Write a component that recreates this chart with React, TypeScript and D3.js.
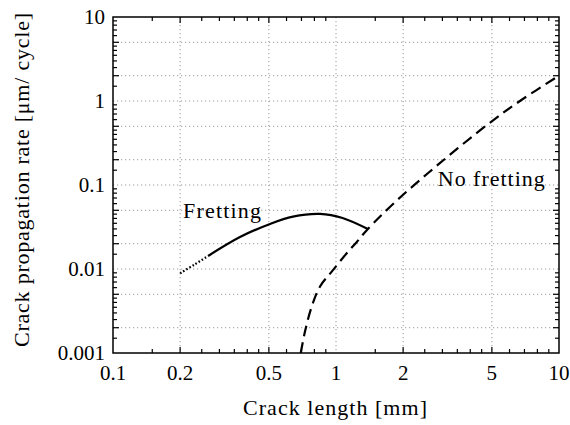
import React from "react";
import * as d3 from "d3";

const xTickLabels = [0.1, 0.2, 0.5, 1, 2, 5, 10];
const yTickLabels = [0.001, 0.01, 0.1, 1, 10];
const gridX = [0.2, 0.5, 1, 2, 5];
const gridY = [0.002, 0.005, 0.01, 0.02, 0.05, 0.1, 0.2, 0.5, 1, 2, 5];
const minorMantissas = [1.5, 2, 2.5, 3, 3.5, 4, 4.5, 5, 6, 7, 8, 9];

const frettingDottedX = [0.2, 0.232, 0.267];
const frettingDottedY = [0.0089, 0.0113, 0.0143];
const frettingX = [0.267, 0.371, 0.506, 0.641, 0.848, 1.07, 1.39];
const frettingY = [0.0143, 0.024, 0.0344, 0.042, 0.0452, 0.0405, 0.0299];
const noFrettingX = [0.695, 0.726, 0.778, 0.848, 0.957, 1.117, 1.24, 1.39, 1.88, 2.93, 4.75, 6.68, 10];
const noFrettingY = [0.001, 0.0018, 0.00356, 0.0062, 0.0093, 0.0154, 0.021, 0.03, 0.066, 0.183, 0.518, 1.0, 2.0];

const labelFretting = { text: "Fretting", x: 0.206, y: 0.0405 };
const labelNoFretting = { text: "No fretting", x: 2.86, y: 0.097 };

const W = 570, H = 425;
const L = 113, R = 559, T = 17, B = 353;
const FONT = "Liberation Serif, DejaVu Serif, serif";

export default function App() {
  const x = d3.scaleLog().domain([0.1, 10]).range([L, R]);
  const y = d3.scaleLog().domain([0.001, 10]).range([B, T]);

  const minorX: number[] = [];
  [0.1, 1].forEach((d) => minorMantissas.forEach((m) => minorX.push(d * m)));
  const minorY: number[] = [];
  [0.001, 0.01, 0.1, 1].forEach((d) => minorMantissas.forEach((m) => minorY.push(d * m)));
  const majorSet = (v: number) => [1, 2, 5].some((m) => Math.abs(v / Math.pow(10, Math.floor(Math.log10(v) + 1e-9)) - m) < 1e-6);

  const line = d3
    .line<[number, number]>()
    .x((d) => x(d[0]))
    .y((d) => y(d[1]))
    .curve(d3.curveCatmullRom.alpha(0.5));

  const zip = (a: number[], b: number[]) => a.map((v, i) => [v, b[i]] as [number, number]);

  const gridStyle = { stroke: "#9a9a9a", strokeWidth: 1, strokeDasharray: "1.2,2.8" };
  const ts = { fontFamily: FONT, fontSize: "21px" } as React.CSSProperties;
  const tl = { fontFamily: FONT, fontSize: "22px" } as React.CSSProperties;

  return (
    <svg width={W} height={H} style={{ position: "absolute", left: 0, top: 0, background: "#fff" }}>
      <defs>
        <clipPath id="plot">
          <rect x={L} y={T} width={R - L} height={B - T} />
        </clipPath>
      </defs>
      {gridX.map((v) => (
        <line key={"gx" + v} x1={x(v)} x2={x(v)} y1={T} y2={B} {...gridStyle} />
      ))}
      {gridY.map((v) => (
        <line key={"gy" + v} x1={L} x2={R} y1={y(v)} y2={y(v)} {...gridStyle} />
      ))}
      {minorX.map((v) => {
        const len = majorSet(v) ? 6 : 4;
        return (
          <g key={"tx" + v}>
            <line x1={x(v)} x2={x(v)} y1={B} y2={B - len} stroke="#000" strokeWidth={1.2} />
            <line x1={x(v)} x2={x(v)} y1={T} y2={T + len} stroke="#000" strokeWidth={1.2} />
          </g>
        );
      })}
      {minorY.map((v) => {
        const len = majorSet(v) ? 6 : 4;
        return (
          <g key={"ty" + v}>
            <line x1={L} x2={L + len} y1={y(v)} y2={y(v)} stroke="#000" strokeWidth={1.2} />
            <line x1={R} x2={R - len} y1={y(v)} y2={y(v)} stroke="#000" strokeWidth={1.2} />
          </g>
        );
      })}
      <g clipPath="url(#plot)">
        <path d={line(zip(frettingDottedX, frettingDottedY)) || ""} fill="none" stroke="#000" strokeWidth={2.2} strokeDasharray="1.6,2" />
        <path d={line(zip(frettingX, frettingY)) || ""} fill="none" stroke="#000" strokeWidth={2.2} />
        <path d={line(zip(noFrettingX, noFrettingY)) || ""} fill="none" stroke="#000" strokeWidth={2.2} strokeDasharray="11,6" />
      </g>
      <rect x={L} y={T} width={R - L} height={B - T} fill="none" stroke="#000" strokeWidth={1.5} />
      {xTickLabels.map((v) => (
        <text key={"xl" + v} x={x(v)} y={B + 27} textAnchor="middle" style={ts}>
          {String(v)}
        </text>
      ))}
      {yTickLabels.map((v) => (
        <text key={"yl" + v} x={L - 8} y={y(v) + 7} textAnchor="end" style={ts}>
          {String(v)}
        </text>
      ))}
      <text x={335} y={415} textAnchor="middle" style={tl} textLength={184} lengthAdjust="spacing">
        Crack length [mm]
      </text>
      <text transform={`translate(29,180) rotate(-90)`} textAnchor="middle" style={tl} textLength={334} lengthAdjust="spacing">
        Crack propagation rate [μm/ cycle]
      </text>
      <text x={x(labelFretting.x)} y={y(labelFretting.y)} style={tl} textLength={78} lengthAdjust="spacing">
        {labelFretting.text}
      </text>
      <text x={x(labelNoFretting.x)} y={y(labelNoFretting.y)} style={tl} textLength={107} lengthAdjust="spacing">
        {labelNoFretting.text}
      </text>
    </svg>
  );
}
